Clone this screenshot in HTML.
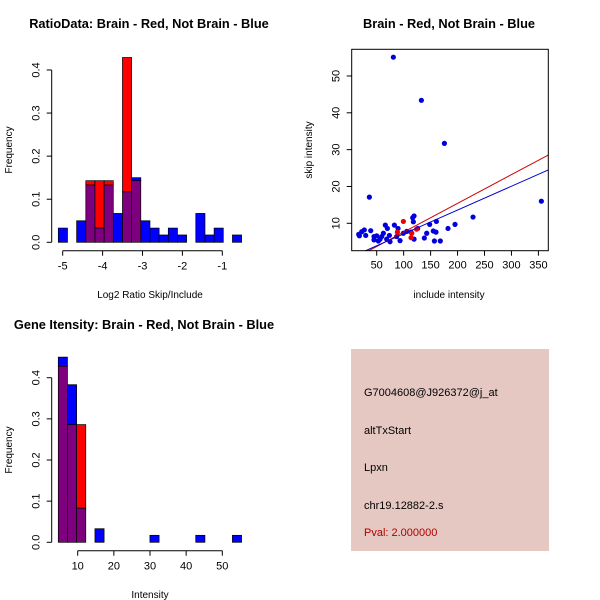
<!DOCTYPE html>
<html><head><meta charset="utf-8"><style>
body{margin:0;background:#fff}
svg{display:block;font-family:"Liberation Sans",sans-serif}
</style></head><body>
<svg id="c" width="600" height="600" viewBox="0 0 600 600">
<rect width="600" height="600" fill="#fff"/>
<g id="p1"></g>
<g id="p2"></g>
<g id="p3"></g>
<g>
<rect x="351" y="349" width="198" height="202" fill="#e6c8c2"/>
<text x="364" y="396" font-size="11">G7004608@J926372@j_at</text>
<text x="364" y="434" font-size="11">altTxStart</text>
<text x="364" y="471" font-size="11">Lpxn</text>
<text x="364" y="509" font-size="11">chr19.12882-2.s</text>
<text x="364" y="536" font-size="11" fill="#b00000">Pval: 2.000000</text>
</g>
</svg>
<script>
// Histogram 1 data
const h1Start = -5.11, h1Width = 0.2297;
const h1Blue = [0.033,0,0.05,0.133,0.033,0.133,0.067,0.117,0.15,0.05,0.033,0.017,0.033,0.017,0,0.067,0.017,0.033,0,0.017];
const h1Red  = [0,0,0,0.143,0.143,0.143,0,0.429,0.143,0,0,0,0,0,0,0,0,0,0,0];
const h1XTicks = [-5,-4,-3,-2,-1];
const h1YTicks = [0,0.1,0.2,0.3,0.4];
// Histogram 3 data
const h3Start = 4.63, h3Width = 2.535;
const h3Blue = [0.45,0.383,0.083,0,0.033,0,0,0,0,0,0.017,0,0,0,0,0.017,0,0,0,0.017];
const h3Red  = [0.428,0.286,0.286,0,0,0,0,0,0,0,0,0,0,0,0,0,0,0,0,0];
const h3XTicks = [10,20,30,40,50];
const h3YTicks = [0,0.1,0.2,0.3,0.4];
// Scatter data
const blueX = [80.9,132.9,175.6,36.4,355.5,228.7,195.3,182.3,160.7,148.3,119.3,116.8,118,126,142.8,138.4,155,160,157,168,119.3,105.7,113.7,93.3,82.8,89.6,66,69.8,73.5,74.7,62.4,59.3,56.2,53.1,50,45,45,38.9,27,22.2,16.6,17.9,29.6,87,68.5,99.5];
const blueY = [55.1,43.4,31.7,17.1,16.0,11.7,9.7,8.6,10.5,9.7,12.0,11.5,10.4,8.6,7.3,6.0,7.9,7.6,5.2,5.2,5.7,7.8,7.6,5.3,9.5,8.6,9.5,8.6,6.7,5.0,7.3,6.4,5.7,5.2,6.6,6.4,5.5,8.0,8.2,7.7,7.0,6.6,6.7,6.4,5.7,7.3];
const redX = [99.5,88.4,113.7,124,115];
const redY = [10.5,7.6,6.1,8.4,7.3];
const redFit = [-0.19,0.078];
const blueFit = [0.66,0.0647];
const sXTicks = [50,100,150,200,250,300,350];
const sYTicks = [10,20,30,40,50];

const NS="http://www.w3.org/2000/svg";
function mk(parent,tag,attrs,text){const e=document.createElementNS(NS,tag);for(const k in attrs)e.setAttribute(k,attrs[k]);if(text!==undefined)e.textContent=text;parent.appendChild(e);return e;}

function hist(g,start,w,blue,red,xs,ys,sx,sy,axisY,axisX,title,titleX,titleY,xlab,xlabX,xlabY,ymidY){
  for(let i=0;i<blue.length;i++){
    const x0=sx(start+i*w),x1=sx(start+(i+1)*w);
    const b=blue[i],r=red[i],m=Math.min(b,r);
    if(b>m){const e=mk(g,'rect',{x:x0,y:sy(b),width:x1-x0,height:sy(m)-sy(b),fill:'#0000ff',stroke:'#000','stroke-width':0.7});
      }
    if(r>m){const e=mk(g,'rect',{x:x0,y:sy(r),width:x1-x0,height:sy(m)-sy(r),fill:'#ff0000',stroke:'#000','stroke-width':0.7});
      }
    if(m>0){const e=mk(g,'rect',{x:x0,y:sy(m),width:x1-x0,height:sy(0)-sy(m),fill:'#7f007f',stroke:'#000','stroke-width':0.7});
      }
  }
  mk(g,'line',{x1:sx(xs[0]),x2:sx(xs[xs.length-1]),y1:axisY,y2:axisY,stroke:'#000'});
  xs.forEach(t=>{mk(g,'line',{x1:sx(t),x2:sx(t),y1:axisY,y2:axisY+5,stroke:'#000'});
    const e=mk(g,'text',{x:sx(t),y:axisY+19,'font-size':11,'text-anchor':'middle'},String(t));
    });
  mk(g,'line',{x1:axisX,x2:axisX,y1:sy(ys[0]),y2:sy(ys[ys.length-1]),stroke:'#000'});
  ys.forEach(t=>{mk(g,'line',{x1:axisX,x2:axisX-5,y1:sy(t),y2:sy(t),stroke:'#000'});
    const e=mk(g,'text',{x:0,y:0,'font-size':11,'text-anchor':'middle',transform:`translate(${axisX-12},${sy(t)}) rotate(-90)`},t.toFixed(1));
    });
  let e=mk(g,'text',{x:titleX,y:titleY,'font-size':12.8,'font-weight':'bold','text-anchor':'middle'},title);
  
  e=mk(g,'text',{x:xlabX,y:xlabY,'font-size':10,'text-anchor':'middle'},xlab);
  
  e=mk(g,'text',{x:0,y:0,'font-size':10,'text-anchor':'middle',transform:`translate(12,${ymidY}) rotate(-90)`},'Frequency');
  
}

// Panel 1
hist(document.getElementById('p1'),h1Start,h1Width,h1Blue,h1Red,h1XTicks,h1YTicks,
  v=>62.7+(v+5)*39.9, v=>242.3-v*430.8, 250.7,51.7,
  'RatioData: Brain - Red, Not Brain - Blue',149,28,'Log2 Ratio Skip/Include',150,298,150);
// Panel 3
hist(document.getElementById('p3'),h3Start,h3Width,h3Blue,h3Red,h3XTicks,h3YTicks,
  v=>77.7+(v-10)*3.615, v=>542.3-v*411.5, 550.7,51.7,
  'Gene Itensity: Brain - Red, Not Brain - Blue',144,329,'Intensity',150,598,450);

// Panel 2 scatter
(function(){
  const g=document.getElementById('p2');
  const L=351.7,R=548.3,T=49.3,B=250.7;
  const sx=v=>376.7+(v-50)*0.539, sy=v=>223.3-(v-10)*3.683;
  const xmin=(L-376.7)/0.539+50, xmax=(R-376.7)/0.539+50;
  mk(g,'clipPath',{id:'clip2'}).appendChild(document.createElementNS(NS,'rect'));
  const cr=g.querySelector('#clip2 rect');cr.setAttribute('x',L);cr.setAttribute('y',T);cr.setAttribute('width',R-L);cr.setAttribute('height',B-T);
  const pg=mk(g,'g',{'clip-path':'url(#clip2)'});
  blueX.forEach((x,i)=>{const e=mk(pg,'circle',{cx:sx(x),cy:sy(blueY[i]),r:2.6,fill:'#0000dd'});
    });
  redX.forEach((x,i)=>{const e=mk(pg,'circle',{cx:sx(x),cy:sy(redY[i]),r:2.6,fill:'#ee0000'});
    });
  let e=mk(pg,'line',{x1:sx(xmin),y1:sy(redFit[0]+redFit[1]*xmin),x2:sx(xmax),y2:sy(redFit[0]+redFit[1]*xmax),stroke:'#cc0000','stroke-width':1});
  
  e=mk(pg,'line',{x1:sx(xmin),y1:sy(blueFit[0]+blueFit[1]*xmin),x2:sx(xmax),y2:sy(blueFit[0]+blueFit[1]*xmax),stroke:'#0000cc','stroke-width':1});
  
  mk(g,'rect',{x:L,y:T,width:R-L,height:B-T,fill:'none',stroke:'#000'});
  sXTicks.forEach(t=>{mk(g,'line',{x1:sx(t),x2:sx(t),y1:B,y2:B+5,stroke:'#000'});
    const e=mk(g,'text',{x:sx(t),y:B+18,'font-size':11,'text-anchor':'middle'},String(t));
    });
  sYTicks.forEach(t=>{mk(g,'line',{x1:L,x2:L-5,y1:sy(t),y2:sy(t),stroke:'#000'});
    const e=mk(g,'text',{x:0,y:0,'font-size':11,'text-anchor':'middle',transform:`translate(${L-12},${sy(t)}) rotate(-90)`},String(t));
    });
  e=mk(g,'text',{x:449,y:28,'font-size':12.8,'font-weight':'bold','text-anchor':'middle'},'Brain - Red, Not Brain - Blue');
  
  e=mk(g,'text',{x:449,y:298,'font-size':10,'text-anchor':'middle'},'include intensity');
  
  e=mk(g,'text',{x:0,y:0,'font-size':10,'text-anchor':'middle',transform:`translate(312,150) rotate(-90)`},'skip intensity');
  
})();
</script>
</body></html>
